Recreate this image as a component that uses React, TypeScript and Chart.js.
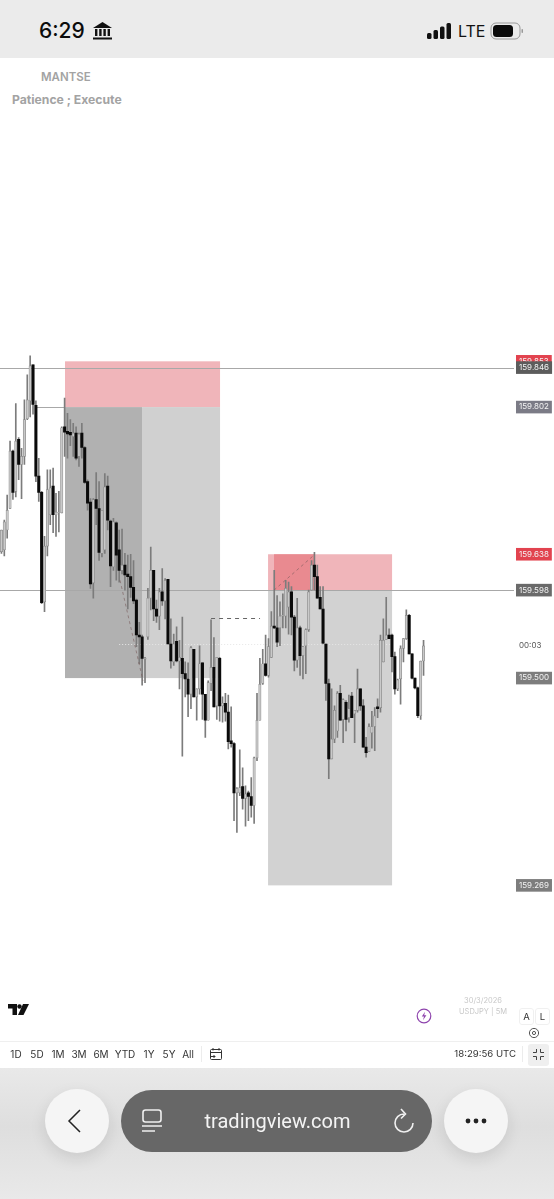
import React, { useEffect, useRef } from "react";
import { Chart, registerables } from "chart.js";

Chart.register(...registerables);

const opens = [159.641,159.643,159.665,159.689,159.753,159.708,159.766,159.738,159.747,159.789,159.809,159.849,159.804,159.725,159.707,159.585,159.647,159.682,159.714,159.682,159.684,159.684,159.780,159.775,159.774,159.769,159.773,159.747,159.773,159.757,159.719,159.696,159.606,159.699,159.689,159.639,159.643,159.714,159.675,159.624,159.673,159.643,159.620,159.626,159.616,159.613,159.601,159.587,159.548,159.546,159.521,159.546,159.589,159.620,159.577,159.569,159.596,159.586,159.610,159.538,159.518,159.541,159.519,159.522,159.505,159.499,159.482,159.532,159.479,159.488,159.517,159.482,159.453,159.494,159.512,159.469,159.522,159.469,159.472,159.462,159.430,159.427,159.372,159.372,159.379,159.366,159.372,159.368,159.358,159.411,159.453,159.494,159.516,159.503,159.523,159.558,159.556,159.556,159.569,159.569,159.579,159.596,159.568,159.520,159.556,159.525,159.536,159.554,159.598,159.626,159.613,159.590,159.577,159.538,159.494,159.410,159.432,159.441,159.483,159.454,159.473,159.456,159.480,159.460,159.464,159.488,159.469,159.423,159.418,159.439,159.446,159.468,159.467,159.518,159.543,159.548,159.548,159.524,159.488,159.499,159.533,159.544,159.570,159.527,159.500,159.489,159.458,159.519];
const highs = [159.665,159.676,159.704,159.764,159.754,159.806,159.768,159.756,159.810,159.838,159.859,159.849,159.809,159.745,159.708,159.658,159.732,159.732,159.734,159.706,159.708,159.780,159.812,159.795,159.788,159.784,159.780,159.773,159.784,159.758,159.721,159.700,159.700,159.729,159.719,159.687,159.728,159.725,159.676,159.678,159.674,159.665,159.666,159.639,159.637,159.638,159.631,159.588,159.562,159.548,159.523,159.600,159.646,159.620,159.587,159.600,159.622,159.611,159.610,159.566,159.549,159.557,159.542,159.568,159.518,159.517,159.535,159.532,159.488,159.536,159.517,159.482,159.497,159.565,159.545,159.523,159.523,159.479,159.483,159.481,159.468,159.428,159.378,159.420,159.400,159.380,159.374,159.389,159.412,159.483,159.522,159.532,159.548,159.544,159.574,159.620,159.592,159.585,159.594,159.609,159.607,159.602,159.570,159.589,159.558,159.535,159.555,159.598,159.631,159.640,159.626,159.602,159.602,159.538,159.499,159.488,159.469,159.485,159.492,159.477,159.475,159.481,159.484,159.464,159.510,159.488,159.476,159.434,159.449,159.463,159.467,159.477,159.548,159.566,159.590,159.555,159.549,159.529,159.499,159.536,159.544,159.576,159.571,159.527,159.500,159.490,159.519,159.542];
const lows = [159.639,159.636,159.656,159.689,159.699,159.702,159.721,159.700,159.738,159.788,159.791,159.794,159.719,159.697,159.583,159.574,159.636,159.671,159.662,159.658,159.663,159.684,159.747,159.745,159.759,159.747,159.743,159.736,159.745,159.717,159.687,159.600,159.589,159.671,159.631,159.635,159.639,159.665,159.602,159.620,159.609,159.607,159.616,159.598,159.577,159.590,159.583,159.535,159.516,159.492,159.495,159.543,159.576,159.564,159.562,159.554,159.581,159.566,159.538,159.511,159.514,159.518,159.488,159.413,159.479,159.457,159.466,159.479,159.453,159.482,159.454,159.434,159.453,159.486,159.468,159.454,159.452,159.451,159.452,159.421,159.423,159.341,159.328,159.369,159.354,159.335,159.341,159.345,159.338,159.408,159.453,159.493,159.502,159.501,159.523,159.555,159.535,159.536,159.556,159.556,159.549,159.548,159.508,159.512,159.503,159.499,159.505,159.552,159.598,159.598,159.589,159.577,159.538,159.475,159.388,159.410,159.428,159.434,159.453,159.428,159.441,159.451,159.456,159.428,159.462,159.464,159.423,159.412,159.418,159.422,159.419,159.456,159.462,159.518,159.543,159.544,159.507,159.482,159.486,159.471,159.518,159.543,159.527,159.499,159.488,159.456,159.454,159.503];
const closes = [159.665,159.674,159.687,159.753,159.707,159.764,159.738,159.747,159.788,159.810,159.848,159.805,159.725,159.707,159.584,159.647,159.710,159.712,159.682,159.685,159.685,159.779,159.774,159.772,159.771,159.773,159.745,159.772,159.757,159.718,159.695,159.605,159.699,159.689,159.640,159.687,159.713,159.676,159.625,159.674,159.637,159.620,159.626,159.615,159.613,159.601,159.586,159.548,159.546,159.522,159.522,159.589,159.620,159.577,159.569,159.596,159.586,159.609,159.538,159.519,159.538,159.519,159.523,159.505,159.499,159.482,159.534,159.479,159.488,159.516,159.482,159.453,159.495,159.512,159.468,159.523,159.469,159.472,159.462,159.429,159.427,159.372,159.377,159.378,159.366,159.371,159.368,159.358,159.411,159.453,159.493,159.516,159.503,159.535,159.558,159.556,159.540,159.569,159.570,159.600,159.596,159.568,159.520,159.556,159.525,159.535,159.554,159.596,159.626,159.613,159.589,159.577,159.539,159.494,159.410,159.432,159.464,159.483,159.453,159.476,159.454,159.466,159.456,159.464,159.488,159.469,159.423,159.417,159.446,159.446,159.458,159.466,159.542,159.542,159.548,159.544,159.524,159.488,159.498,159.533,159.544,159.570,159.527,159.500,159.489,159.458,159.519,159.536];

// slots on the time axis (candles plus the empty space to the right)
const slotCount = 179;
const slotLabels = Array.from({ length: slotCount }, (_, i) => String(i));

// y axis window
const priceMin = 159.1076;
const priceMax = 160.1801;

// overlays: [fromSlot, toSlot, topPrice, bottomPrice, colour]
const zones: [number, number, number, number, string][] = [
  [22.14, 76.13, 159.853, 159.802, "#f0b5ba"],
  [22.14, 48.96, 159.802, 159.5, "#b1b1b1"],
  [48.96, 76.13, 159.802, 159.5, "#d0d0d0"],
  [92.85, 136.04, 159.638, 159.598, "#f0b5ba"],
  [92.85, 136.04, 159.598, 159.269, "#d2d2d2"],
  [94.93, 109.2, 159.638, 159.598, "#e98a90"],
];
// [fromSlot, toSlot, price]
const levels: [number, number, number][] = [
  [-0.5, 178.5, 159.846],
  [-0.5, 178.5, 159.598],
  [11.7, 22.14, 159.802],
];
const lastPrice = 159.5375;
const dashedLevel: [number, number, number] = [73, 90.06, 159.567];
const diagonals: [number, number, number, number][] = [
  [41.3, 159.609, 49.3, 159.497],
  [94.93, 159.598, 109.2, 159.638],
];

const priceTags = [159.853, 159.846, 159.802, 159.638, 159.598, 159.5365, 159.5, 159.269];
const tagColours: Record<string, string> = {
  "159.853": "#e2434f",
  "159.846": "#5c5c5c",
  "159.802": "#7b7b86",
  "159.638": "#e2434f",
  "159.598": "#6a6a6a",
  "159.5": "#7d7d7d",
  "159.269": "#7d7d7d",
};
const countdownTag = 159.5365;
const countdownText = "00:03";

const rangeLabels = ["1D", "5D", "1M", "3M", "6M", "YTD", "1Y", "5Y", "All"];
const rangeX = [16, 37, 58, 79, 101, 125, 149, 169, 188];

const overlayPlugin = {
  id: "overlays",
  beforeDatasetsDraw(chart: any) {
    const { ctx, scales } = chart;
    const x = scales.x, y = scales.y;
    ctx.save();
    for (const [a, b, t, u, c] of zones) {
      const x0 = x.getPixelForValue(a), x1 = x.getPixelForValue(b);
      const y0 = y.getPixelForValue(t), y1 = y.getPixelForValue(u);
      ctx.fillStyle = c;
      ctx.fillRect(x0, y0, x1 - x0, y1 - y0);
    }
    ctx.strokeStyle = "#a8a8a8";
    ctx.lineWidth = 1;
    for (const [a, b, p] of levels) {
      const yy = Math.round(y.getPixelForValue(p)) + 0.5;
      ctx.beginPath();
      ctx.moveTo(x.getPixelForValue(a), yy);
      ctx.lineTo(x.getPixelForValue(b), yy);
      ctx.stroke();
    }
    ctx.setLineDash([1, 2]);
    ctx.strokeStyle = "#e6e6e6";
    const ly = Math.round(y.getPixelForValue(lastPrice)) + 0.5;
    ctx.beginPath();
    ctx.moveTo(x.getPixelForValue(41), ly);
    ctx.lineTo(x.getPixelForValue(136), ly);
    ctx.stroke();
    ctx.restore();
  },
  afterDatasetsDraw(chart: any) {
    const { ctx, scales } = chart;
    const x = scales.x, y = scales.y;
    ctx.save();
    ctx.lineWidth = 1;
    ctx.setLineDash([4, 4]);
    ctx.strokeStyle = "#666";
    const dy = Math.round(y.getPixelForValue(dashedLevel[2])) + 0.5;
    ctx.beginPath();
    ctx.moveTo(x.getPixelForValue(dashedLevel[0]), dy);
    ctx.lineTo(x.getPixelForValue(dashedLevel[1]), dy);
    ctx.stroke();
    ctx.setLineDash([3, 3]);
    ctx.strokeStyle = "rgba(120,90,90,0.6)";
    for (const [a, p, b, q] of diagonals) {
      ctx.beginPath();
      ctx.moveTo(x.getPixelForValue(a), y.getPixelForValue(p));
      ctx.lineTo(x.getPixelForValue(b), y.getPixelForValue(q));
      ctx.stroke();
    }
    ctx.restore();
  },
};

const abs = (left: number, top: number, extra: React.CSSProperties = {}): React.CSSProperties => ({
  position: "absolute",
  left,
  top,
  ...extra,
});

export default function App() {
  const ref = useRef<HTMLCanvasElement | null>(null);
  useEffect(() => {
    const isUp = (i: number) => closes[i] >= opens[i];
    const chart = new Chart(ref.current!, {
      type: "bar",
      data: {
        labels: slotLabels,
        datasets: [
          {
            label: "Body",
            data: opens.map((o, i) => [Math.min(o, closes[i]), Math.max(o, closes[i])]) as any,
            barThickness: 2.4,
            grouped: false,
            order: 1,
            borderSkipped: false,
            borderWidth: (c: any) => (isUp(c.dataIndex) ? 0.7 : 0),
            borderColor: "#8c8c8c",
            backgroundColor: (c: any) => (isUp(c.dataIndex) ? "#c9c9c9" : "#0a0a0a"),
          } as any,
          {
            label: "Wick",
            data: lows.map((l, i) => [l, highs[i]]) as any,
            barThickness: 1,
            grouped: false,
            order: 2,
            backgroundColor: "#7c7c7c",
          } as any,
        ],
      },
      options: {
        animation: false,
        responsive: false,
        maintainAspectRatio: false,
        layout: { padding: 0, autoPadding: false },
        plugins: { legend: { display: false }, tooltip: { enabled: false } },
        scales: {
          x: { type: "category", display: false, grid: { display: false } },
          y: {
            type: "linear",
            position: "right",
            bounds: "data",
            min: priceMin,
            max: priceMax,
            grid: { display: false, drawTicks: false },
            border: { display: false },
            afterFit: (s: any) => {
              s.width = 40;
            },
            afterBuildTicks: (s: any) => {
              s.ticks = priceTags.map((value) => ({ value }));
            },
            ticks: {
              autoSkip: false,
              padding: 5,
              font: { family: "Inter", size: 8 },
              color: (c: any) => (c.tick?.value === countdownTag ? "#555" : "#f4f4f4"),
              showLabelBackdrop: true,
              backdropPadding: { x: 3, y: 1.5 },
              backdropColor: (c: any) => tagColours[String(c.tick?.value)] ?? "rgba(0,0,0,0)",
              callback: (v: any) => (v === countdownTag ? countdownText : Number(v).toFixed(3)),
            },
          } as any,
        },
      },
      plugins: [overlayPlugin],
    } as any);
    return () => chart.destroy();
  }, []);

  return (
    <div
      style={{
        position: "fixed",
        left: 0,
        top: 0,
        width: 554,
        height: 1199,
        overflow: "hidden",
        background: "#fff",
        fontFamily: "Inter, sans-serif",
      }}
    >
      {/* status bar */}
      <div style={abs(0, 0, { width: 554, height: 58, background: "#ebebeb" })} />
      <div style={abs(39, 18, { fontSize: 21, fontWeight: 500, color: "#0c0c0c", lineHeight: "26px" })}>6:29</div>
      <svg style={abs(92, 21)} width={21} height={20} viewBox="0 0 21 20">
        <path d="M10.5 1 L20 7 H1 Z" fill="#111" />
        <rect x="3" y="8" width="2.4" height="7" fill="#111" />
        <rect x="7.2" y="8" width="2.4" height="7" fill="#111" />
        <rect x="11.4" y="8" width="2.4" height="7" fill="#111" />
        <rect x="15.6" y="8" width="2.4" height="7" fill="#111" />
        <rect x="1" y="16.5" width="19" height="2" fill="#111" />
      </svg>
      <svg style={abs(426, 22)} width={26} height={18} viewBox="0 0 26 18">
        <rect x="1" y="11" width="4.5" height="6" rx="1.5" fill="#111" />
        <rect x="7.5" y="8" width="4.5" height="9" rx="1.5" fill="#111" />
        <rect x="14" y="4.5" width="4.5" height="12.5" rx="1.5" fill="#111" />
        <rect x="20.5" y="1" width="4.5" height="16" rx="1.5" fill="#111" />
      </svg>
      <div style={abs(458, 21, { fontSize: 16, color: "#111", lineHeight: "20px" })}>LTE</div>
      <svg style={abs(490, 22)} width={36} height={18} viewBox="0 0 36 18">
        <rect x="1" y="1" width="29" height="16" rx="5" fill="none" stroke="#999" />
        <rect x="3" y="3" width="20" height="12" rx="3.5" fill="#0a0a0a" />
        <rect x="31.5" y="7" width="1.5" height="4" rx="0.7" fill="#999" />
      </svg>

      {/* header text of the chart */}
      <div style={abs(41, 70, { fontSize: 11.5, fontWeight: 600, color: "#a3a3a3", lineHeight: "14px" })}>MANTSE</div>
      <div style={abs(12, 92, { fontSize: 12.2, fontWeight: 700, color: "#a3a3a3", lineHeight: "16px" })}>
        Patience ; Execute
      </div>

      {/* chart */}
      <canvas ref={ref} width={554} height={982} style={abs(0, 58, { width: 554, height: 982 })} />

      {/* chart-corner controls */}
      <svg style={abs(8, 1004)} width={21} height={12} viewBox="0 0 21 12">
        <path d="M0 0 H9 V11 H4.5 V4.5 H0 Z" fill="#111" />
        <circle cx="11.5" cy="2.5" r="2.2" fill="#111" />
        <path d="M15 0 H21 L15.5 11 H10 Z" fill="#111" />
      </svg>
      <svg style={abs(416, 1008)} width={16} height={16} viewBox="0 0 16 16">
        <circle cx="8" cy="8" r="6.8" fill="none" stroke="#8e44ad" strokeWidth="1.2" />
        <path d="M9 3.8 L5.8 8.6 H8 L7 12.2 L10.4 7.2 H8.2 Z" fill="#8e44ad" />
      </svg>
      <div style={abs(443, 996, { width: 80, textAlign: "center", fontSize: 7.5, color: "#c8c8c8", lineHeight: "10px" })}>
        30/3/2026
      </div>
      <div style={abs(443, 1007, { width: 80, textAlign: "center", fontSize: 7.5, color: "#c8c8c8", lineHeight: "10px" })}>
        USDJPY | 5M
      </div>
      <div style={abs(519, 1008, { width: 13, height: 15, fontSize: 9.5, textAlign: "center", lineHeight: "15px", color: "#333", border: "1px solid #f0f0f0", borderRadius: 3 })}>A</div>
      <div style={abs(535, 1008, { width: 13, height: 15, fontSize: 9.5, textAlign: "center", lineHeight: "15px", color: "#333", border: "1px solid #f0f0f0", borderRadius: 3 })}>L</div>
      <svg style={abs(528, 1027)} width={12} height={12} viewBox="0 0 12 12">
        <circle cx="6" cy="6" r="4.6" fill="none" stroke="#555" strokeWidth="1" />
        <circle cx="6" cy="6" r="1.6" fill="none" stroke="#555" strokeWidth="1" />
      </svg>

      {/* range toolbar */}
      <div style={abs(0, 1041, { width: 554, height: 27, background: "#fff", borderTop: "1px solid #efefef" })} />
      {rangeLabels.map((t, i) => (
        <div key={t} style={abs(rangeX[i] - 15, 1047, { width: 30, textAlign: "center", fontSize: 10, color: "#333", lineHeight: "14px" })}>
          {t}
        </div>
      ))}
      <div style={abs(201, 1046, { width: 1, height: 16, background: "#ececec" })} />
      <svg style={abs(209, 1047)} width={14} height={14} viewBox="0 0 14 14" fill="none" stroke="#333" strokeWidth="1">
        <rect x="1.5" y="2.5" width="11" height="10" rx="1" />
        <path d="M1.5 5.5 H12.5 M4 1 V3.5 M10 1 V3.5 M1 9.5 H6 M4.5 8 L6 9.5 L4.5 11" />
      </svg>
      <div style={abs(430, 1047, { width: 86, textAlign: "right", fontSize: 9.6, color: "#333", lineHeight: "14px", whiteSpace: "nowrap" })}>
        18:29:56 UTC
      </div>
      <div style={abs(522, 1046, { width: 1, height: 16, background: "#ececec" })} />
      <div style={abs(528, 1044, { width: 21, height: 22, background: "#efefef", borderRadius: 3 })} />
      <svg style={abs(532, 1048)} width={13} height={13} viewBox="0 0 13 13" fill="none" stroke="#444" strokeWidth="1">
        <path d="M4.5 1 V4.5 H1 M8.5 1 V4.5 H12 M4.5 12 V8.5 H1 M8.5 12 V8.5 H12" />
      </svg>

      {/* browser bar */}
      <div style={abs(0, 1068, { width: 554, height: 131, background: "linear-gradient(#e9e9e9,#dedede 45%,#e9e9e9)" })} />
      <div style={abs(45, 1089, { width: 64, height: 64, borderRadius: 32, background: "#f5f5f5", boxShadow: "0 6px 16px rgba(0,0,0,0.10)" })} />
      <svg style={abs(66, 1108)} width={16} height={26} viewBox="0 0 16 26" fill="none" stroke="#222" strokeWidth="1.5">
        <path d="M14 2 L3 13 L14 24" />
      </svg>
      <div style={abs(121, 1090, { width: 311, height: 62, borderRadius: 31, background: "#676767" })} />
      <svg style={abs(140, 1108)} width={24} height={26} viewBox="0 0 24 26" fill="none" stroke="#f0f0f0" strokeWidth="1.6">
        <rect x="3" y="2" width="18" height="12" rx="2.5" />
        <path d="M2 18 H22 M2 23 H15" />
      </svg>
      <div style={abs(121, 1108, { width: 313, textAlign: "center", fontSize: 20, color: "#f4f4f4", lineHeight: "26px", fontFamily: "Roboto, Inter, sans-serif" })}>
        tradingview.com
      </div>
      <svg style={abs(391, 1107)} width={26} height={28} viewBox="0 0 26 28" fill="none" stroke="#f0f0f0" strokeWidth="1.6">
        <path d="M13 7 A9 9 0 1 0 22 16 M10 2 L14.5 7 L10 11.5" />
      </svg>
      <div style={abs(444, 1089, { width: 64, height: 64, borderRadius: 32, background: "#f5f5f5", boxShadow: "0 6px 16px rgba(0,0,0,0.10)" })} />
      <svg style={abs(464, 1117)} width={24} height={8} viewBox="0 0 24 8">
        <circle cx="4" cy="4" r="2.4" fill="#222" />
        <circle cx="12" cy="4" r="2.4" fill="#222" />
        <circle cx="20" cy="4" r="2.4" fill="#222" />
      </svg>
    </div>
  );
}
